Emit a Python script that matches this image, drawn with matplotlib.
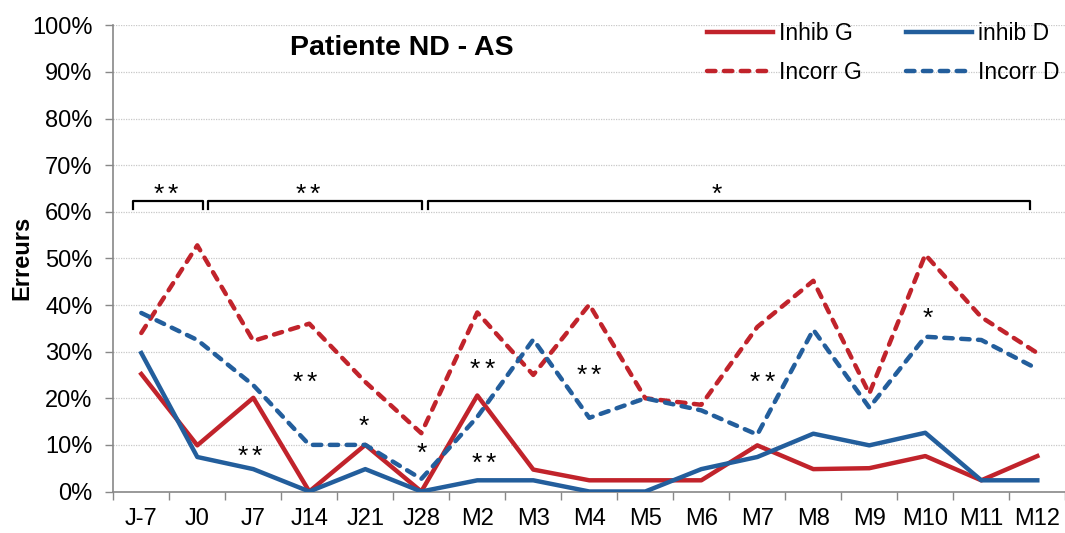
import matplotlib
matplotlib.use("Agg")
import matplotlib.pyplot as plt
from matplotlib.ticker import FixedLocator, PercentFormatter
import numpy as np

plt.rcParams['font.family'] = ['Liberation Sans', 'DejaVu Sans']

categories = ["J-7", "J0", "J7", "J14", "J21", "J28", "M2", "M3", "M4",
              "M5", "M6", "M7", "M8", "M9", "M10", "M11", "M12"]

inhib_g = [25.2, 9.9, 20.1, 0, 10, 0, 20.6, 4.7, 2.4, 2.4, 2.4, 9.9, 4.8, 5.0, 7.6, 2.4, 7.6]
inhib_d = [29.7, 7.4, 4.8, 0, 4.8, 0, 2.4, 2.4, 0, 0, 4.8, 7.4, 12.4, 9.9, 12.6, 2.4, 2.4]
incorr_g = [34.0, 52.8, 32.3, 36.0, 23.5, 12.5, 38.4, 25.0, 40.1, 20.0, 18.6, 35.3, 45.2, 21.0, 50.8, 37.4, 29.7]
incorr_d = [38.3, 32.5, 22.8, 10.0, 10.0, 2.7, 16.0, 32.6, 15.8, 20.0, 17.4, 12.2, 34.7, 18.0, 33.2, 32.5, 26.3]

series_labels = ["Inhib G", "inhib D", "Incorr G", "Incorr D"]

# significance brackets: (start, end, number of stars) in category index units
brackets = [(-0.14, 1.10, 2), (1.19, 5.02, 2), (5.12, 15.87, 1)]
bracket_label_x = [0.44, 2.97, 10.27]
bracket_level = 62.4
bracket_tick = 60.6
label_level = 65.4

# inner star annotations: (x index, y %, number of stars)
stars_x = [1.94, 2.92, 3.98, 5.01, 6.09, 6.12, 7.99, 11.09, 14.05]
stars_y = [9.1, 25.0, 15.6, 9.9, 27.9, 7.7, 26.6, 25.0, 38.8]
stars_n = [2, 2, 1, 1, 2, 2, 2, 2, 1]

RED = "#C1232B"
BLUE = "#235E9C"

W, H = 1065, 533
fig = plt.figure(figsize=(W / 100, H / 100), dpi=100)
ax_left, ax_right = 113.3, 1065.3
ax_top, ax_bot = 25.3, 491.5
ax = fig.add_axes([ax_left / W, 1 - ax_bot / H, (ax_right - ax_left) / W, (ax_bot - ax_top) / H])

x = np.arange(len(categories))
lw = 3.2
dash = (0, (1.9, 1.9))
h1, = ax.plot(x, inhib_g, color=RED, lw=lw, label=series_labels[0], zorder=3)
h2, = ax.plot(x, inhib_d, color=BLUE, lw=lw, label=series_labels[1], zorder=3)
h3, = ax.plot(x, incorr_g, color=RED, lw=lw, label=series_labels[2], ls=dash,
              dash_capstyle='round', zorder=3)
h4, = ax.plot(x, incorr_d, color=BLUE, lw=lw, label=series_labels[3], ls=dash,
              dash_capstyle='round', zorder=3)

ax.set_xlim(-0.5, len(categories) - 0.5)
ax.set_ylim(0, 100)
ax.yaxis.set_major_locator(FixedLocator(np.arange(0, 101, 10)))
ax.yaxis.set_major_formatter(PercentFormatter(decimals=0))
ax.grid(axis='y', color='#C8C8C8', lw=0.9, ls=(0, (1, 1)))
ax.set_axisbelow(True)

ax.set_xticks(x)
ax.set_xticklabels(categories)
ax.xaxis.set_minor_locator(FixedLocator(np.arange(-0.5, len(categories), 1)))
ax.tick_params(axis='x', which='major', length=0, pad=12, labelsize=17)
ax.tick_params(axis='x', which='minor', length=5.5, width=1, color='#888888', direction='out')
ax.tick_params(axis='y', length=6, width=1, color='#888888', direction='out', pad=9, labelsize=17)

for s in ['top', 'right']:
    ax.spines[s].set_visible(False)
for s in ['left', 'bottom']:
    ax.spines[s].set_color('#888888')
    ax.spines[s].set_linewidth(1.2)


def stars(xv, yv, n):
    offs = [0.0] if n == 1 else [-5.2, 5.2]
    for o in offs:
        ax.annotate("*", xy=(xv, yv), xytext=(o, -11), textcoords='offset points',
                    ha='center', va='baseline', fontsize=19, zorder=5)


# brackets
for (a, b, n), lx in zip(brackets, bracket_label_x):
    ax.plot([a, a, b, b], [bracket_tick, bracket_level, bracket_level, bracket_tick],
            color='black', lw=1.6, clip_on=False, solid_joinstyle='round', zorder=4)
    stars(lx, label_level, n)

for sx, sy, sn in zip(stars_x, stars_y, stars_n):
    stars(sx, sy, sn)

leg = ax.legend(handles=[h1, h3, h2, h4], ncol=2, loc='upper left',
                bbox_to_anchor=(707 / W, 1 - 22 / H),
                bbox_transform=fig.transFigure, frameon=False, fontsize=16.5,
                handlelength=2.9, handletextpad=0.25, columnspacing=1.9,
                labelspacing=0.68, borderpad=0, borderaxespad=0)

fig.text(402 / W, 1 - 47.8 / H, "Patiente ND - AS", ha='center', va='center',
         fontsize=20.5, fontweight='bold')
fig.text(21.7 / W, 1 - 258 / H, "Erreurs", ha='center', va='center', rotation=90,
         fontsize=17, fontweight='bold')

fig.savefig("out.png", dpi=100)
